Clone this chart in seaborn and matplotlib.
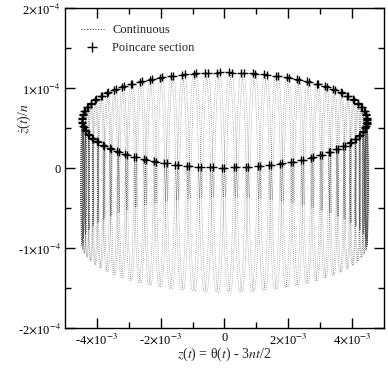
import numpy as np
import pandas as pd
import matplotlib
matplotlib.use("Agg")
import matplotlib.pyplot as plt
import seaborn as sns
from matplotlib.ticker import FixedLocator, FixedFormatter
from matplotlib.lines import Line2D

# ---- values ----
libration_amplitude = 4.47e-3     # half-width of the Poincare ellipse in z
orbits_per_libration = 75.2       # orbits per slow libration (marker spacing)
loop_depth = 7.8e-5               # half-height of each fast loop in zdot/n
loop_width = 4.0e-5               # half-width of each fast loop in z
zdot_offset = -1.8e-5             # mean zdot/n
n_orbits = 152                    # orbits covered by the continuous curve
x_ticks = [-4e-3, -2e-3, 0, 2e-3, 4e-3]
x_tick_labels = [r"-4$\times$10$^{-3}$", r"-2$\times$10$^{-3}$", "0",
                 r"2$\times$10$^{-3}$", r"4$\times$10$^{-3}$"]
y_ticks = [-2e-4, -1e-4, 0, 1e-4, 2e-4]
y_tick_labels = [r"-2$\times$10$^{-4}$", r"-1$\times$10$^{-4}$", "0",
                 r"1$\times$10$^{-4}$", r"2$\times$10$^{-4}$"]
legend_labels = ["Continuous", "Poincare section"]

# ---- trajectory (z, zdot/n) in orbital time t = n*t ----
eps = 1.0 / orbits_per_libration
t = np.linspace(0, 2 * np.pi * n_orbits, n_orbits * 160 + 1)
z = libration_amplitude * np.cos(eps * t) + loop_width * np.sin(t)
zd = zdot_offset - libration_amplitude * eps * np.sin(eps * t) + loop_depth * np.cos(t)
cont = pd.DataFrame({"z": z, "zd": zd})

ts = 2 * np.pi * np.arange(n_orbits + 1)
zs = libration_amplitude * np.cos(eps * ts) + loop_width * np.sin(ts)
zds = zdot_offset - libration_amplitude * eps * np.sin(eps * ts) + loop_depth * np.cos(ts)
sect = pd.DataFrame({"z": zs, "zd": zds})

sns.set_theme(style="ticks")
plt.rcParams["font.family"] = ["Liberation Serif", "DejaVu Serif"]
plt.rcParams["mathtext.fontset"] = "stix"

fig = plt.figure(figsize=(3.88, 3.68), dpi=100)
ax = fig.add_axes([0.1675, 0.1087, 0.8222, 0.8695])

sns.lineplot(data=cont, x="z", y="zd", sort=False, estimator=None, ax=ax,
             color="#555555", linewidth=0.45, linestyle=(0, (1, 2.2)))
sns.scatterplot(data=sect, x="z", y="zd", ax=ax, marker="+", s=36,
                color="black", linewidth=1.0, zorder=3)

ax.set_xlim(-5e-3, 5e-3)
ax.set_ylim(-2e-4, 2e-4)
ax.xaxis.set_major_locator(FixedLocator(x_ticks))
ax.xaxis.set_major_formatter(FixedFormatter(x_tick_labels))
ax.xaxis.set_minor_locator(FixedLocator([-3e-3, -1e-3, 1e-3, 3e-3]))
ax.yaxis.set_major_locator(FixedLocator(y_ticks))
ax.yaxis.set_major_formatter(FixedFormatter(y_tick_labels))
ax.yaxis.set_minor_locator(FixedLocator([-1.5e-4, -0.5e-4, 0.5e-4, 1.5e-4]))
ax.tick_params(which="both", direction="in", top=True, right=True,
               labelsize=9, width=1, colors="black", pad=3)
ax.tick_params(which="major", length=7)
ax.tick_params(which="minor", length=4)
for s in ax.spines.values():
    s.set_linewidth(1)
    s.set_color("black")

ax.set_xlabel(r"$z$($t$) = θ($t$) - 3$nt$/2", fontsize=10, labelpad=-1)
ax.set_ylabel(r"$\dot{z}$($t$)/$n$", fontsize=10)
ax.yaxis.set_label_coords(-0.10, 0.655)

handles = [Line2D([], [], color="#444444", linewidth=0.8, linestyle=(0, (1, 1.5))),
           Line2D([], [], color="black", marker="+", linestyle="none",
                  markersize=7, markeredgewidth=1)]
ax.legend(handles, legend_labels, loc="upper left", frameon=False,
          fontsize=9, handlelength=1.8, borderaxespad=0.9, labelspacing=0.45,
          handletextpad=0.7)

fig.savefig("out.png", dpi=100)
